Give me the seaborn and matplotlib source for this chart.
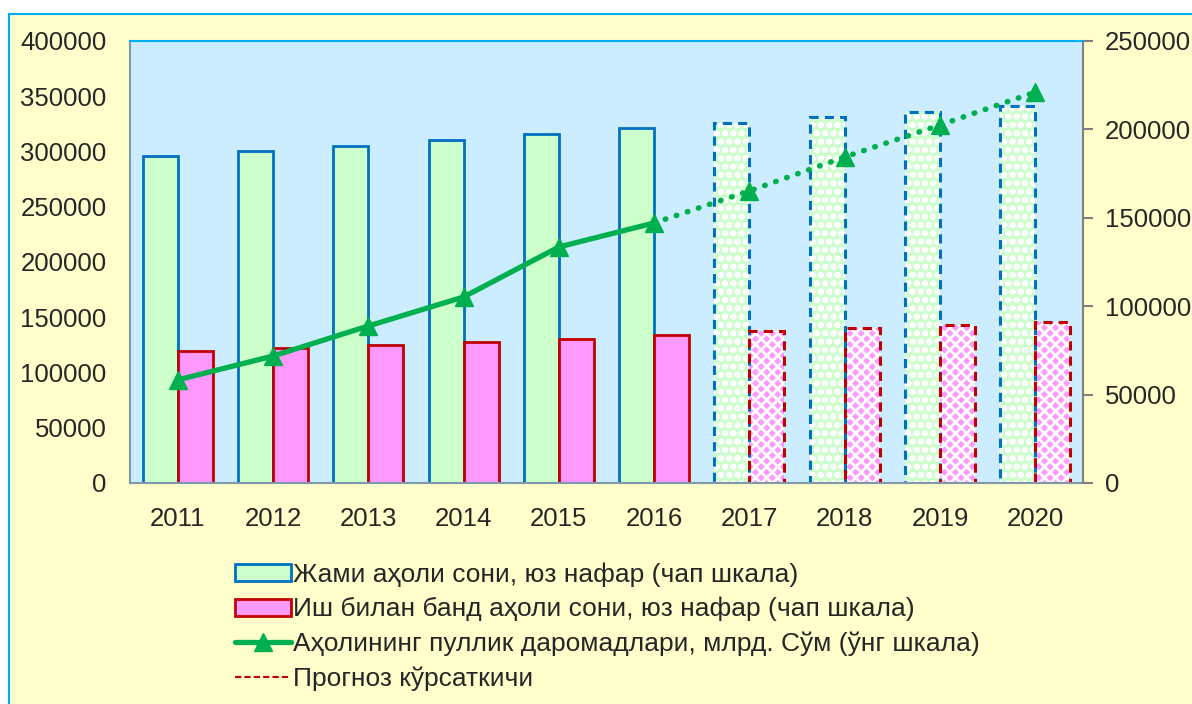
import pandas as pd
import seaborn as sns
import matplotlib.pyplot as plt
from matplotlib.patches import Rectangle, Patch
from matplotlib.lines import Line2D

years = ["2011", "2012", "2013", "2014", "2015", "2016", "2017", "2018", "2019", "2020"]
total_pop = [296000, 300500, 305000, 310400, 315800, 321300, 325800, 331200, 335700, 341200]
employed = [119500, 122200, 124900, 127600, 130300, 134000, 137600, 140300, 143000, 145700]
income = [58300, 71800, 88800, 105200, 133500, 147100, 165200, 184400, 202500, 221100]
forecast_from = 6  # 2017 onwards is forecast

lab_total = "Жами аҳоли сони, юз нафар (чап шкала)"
lab_empl = "Иш билан банд аҳоли сони, юз нафар (чап шкала)"
lab_inc = "Аҳолининг пуллик даромадлари, млрд. Сўм (ўнг шкала)"
lab_fc = "Прогноз кўрсаткичи"

sns.set_style("white")
plt.rcParams["font.family"] = ["Liberation Sans", "DejaVu Sans"]
plt.rcParams["hatch.linewidth"] = 2.0

green_fill = "#CCFFCC"
blue_edge = "#0070C0"
pink_fill = "#FF99FF"
red_edge = "#C00000"
line_green = "#00B050"

df = pd.DataFrame({
    "year": years * 2,
    "value": total_pop + employed,
    "series": [lab_total] * 10 + [lab_empl] * 10,
})

fig = plt.figure(figsize=(11.92, 7.04), dpi=100, facecolor="white")
# yellow chart area with cyan border
fig.patches.append(Rectangle((9 / 1192, -0.1), 1.2, 1.1 - 14 / 704, transform=fig.transFigure,
                             facecolor="#FFFFCC", edgecolor="#00B0F0", linewidth=1.5, zorder=-10))

ax = fig.add_axes([130 / 1192, 1 - 483 / 704, (1083 - 130) / 1192, (483 - 41) / 704])
ax.set_facecolor("#CCECFF")

sns.barplot(data=df, x="year", y="value", hue="series", palette=[green_fill, pink_fill],
            width=0.734, legend=False, ax=ax, saturation=1)

edges = [blue_edge, red_edge]
for i, p in enumerate(ax.patches):
    s, k = divmod(i, 10)
    if k < forecast_from:
        p.set_edgecolor(edges[s])
        p.set_linewidth(2)
    else:
        # hatched fill in white, then a dashed outline on top
        p.set_edgecolor("white")
        p.set_linewidth(0)
        p.set_hatch("oo" if s == 0 else "xxx")
        ax.add_patch(Rectangle((p.get_x(), p.get_y()), p.get_width(), p.get_height(),
                               fill=False, edgecolor=edges[s], linewidth=2.2,
                               linestyle=(0, (3, 2)), zorder=p.get_zorder() + 0.1))

ax.set_ylim(0, 400000)
ax.set_yticks(range(0, 400001, 50000))
ax.set_xlim(-0.5, 9.5)
ax.set_xlabel("")
ax.set_ylabel("")
ax.tick_params(axis="y", length=0, pad=17, labelsize=18.5)
ax.tick_params(axis="x", length=0, pad=17, labelsize=18.5)

ax2 = ax.twinx()
x = list(range(len(years)))
ax2.plot(x[:forecast_from], income[:forecast_from], color=line_green, linewidth=3.8,
         marker="^", markersize=13, zorder=5)
ax2.plot(x[forecast_from - 1:], income[forecast_from - 1:], color=line_green, linewidth=4,
         linestyle=(0, (0.1, 2)), dash_capstyle="round", marker="^", markersize=13,
         markevery=list(range(1, len(years) - forecast_from + 1)), zorder=5)
ax2.set_ylim(0, 250000)
ax2.set_yticks(range(0, 250001, 50000))
ax2.tick_params(axis="y", length=7, width=1.5, color="#808080", pad=9, labelsize=18.5, direction="out")

for sp in ["top", "right", "left", "bottom"]:
    ax.spines[sp].set_visible(sp in ("left", "bottom"))
    ax2.spines[sp].set_visible(sp in ("top", "right"))
ax.spines["left"].set_color("#7F98AC")
ax.spines["bottom"].set_color("#7F98AC")
ax.spines["left"].set_linewidth(1.5)
ax.spines["bottom"].set_linewidth(1.5)
ax2.spines["right"].set_color("#808080")
ax2.spines["right"].set_linewidth(1.5)
ax2.spines["top"].set_color("#00B0F0")
ax2.spines["top"].set_linewidth(1.5)

handles = [
    Patch(facecolor=green_fill, edgecolor=blue_edge, linewidth=2),
    Patch(facecolor=pink_fill, edgecolor=red_edge, linewidth=2),
    Line2D([], [], color=line_green, linewidth=3.8, marker="^", markersize=13),
    Line2D([], [], color=red_edge, linewidth=1.5, linestyle=(0, (3, 1.5))),
]
fig.legend(handles, [lab_total, lab_empl, lab_inc, lab_fc], loc="upper left",
           bbox_to_anchor=(222 / 1192, 1 - 549 / 704), frameon=False, fontsize=19,
           handlelength=2.1, handleheight=0.62, handletextpad=0.1, labelspacing=0.39, borderpad=0)

fig.savefig("out.png", dpi=100, facecolor="white")
